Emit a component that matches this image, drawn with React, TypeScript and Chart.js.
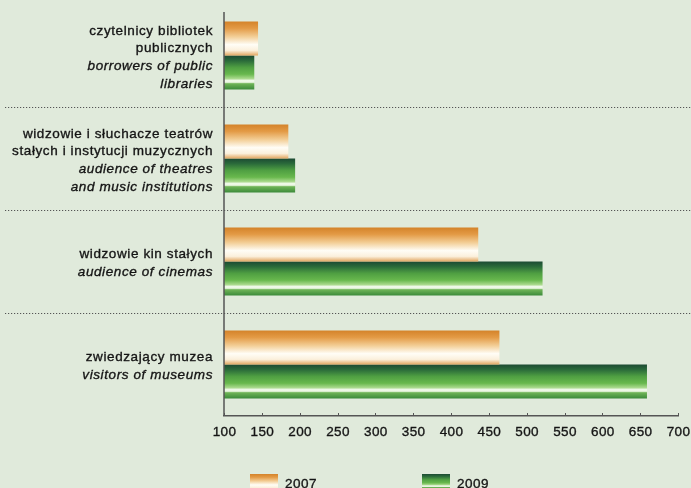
import React, { useEffect, useRef } from "react";
import { Chart, registerables } from "chart.js";

Chart.register(...registerables);

const labelsPl: string[][] = [
  ["czytelnicy bibliotek", "publicznych"],
  ["widzowie i słuchacze teatrów", "stałych i instytucji muzycznych"],
  ["widzowie kin stałych"],
  ["zwiedzający muzea"],
];
const labelsEn: string[][] = [
  ["borrowers of public", "libraries"],
  ["audience of theatres", "and music institutions"],
  ["audience of cinemas"],
  ["visitors of museums"],
];
const categories = ["libraries", "theatres", "cinemas", "museums"];
const values2007 = [145, 185, 436, 464];
const values2009 = [140, 194, 521, 659];
const seriesNames = ["2007", "2009"];
const xTicks = [100, 150, 200, 250, 300, 350, 400, 450, 500, 550, 600, 650, 700];

const CAT_PCT = 0.66;
const FONT = "'Liberation Sans', Arial, sans-serif";
const TEXT = "#151515";

function orangeGrad(ctx: CanvasRenderingContext2D, top: number, h: number) {
  const g = ctx.createLinearGradient(0, top, 0, top + h);
  g.addColorStop(0, "#d4832a");
  g.addColorStop(0.2, "#e39a45");
  g.addColorStop(0.45, "#f3cf98");
  g.addColorStop(0.68, "#fffdf6");
  g.addColorStop(0.85, "#fbf0dc");
  g.addColorStop(1, "#e2a660");
  return g;
}
function greenGrad(ctx: CanvasRenderingContext2D, top: number, h: number) {
  const g = ctx.createLinearGradient(0, top, 0, top + h);
  g.addColorStop(0, "#1c4a33");
  g.addColorStop(0.15, "#2a6a3a");
  g.addColorStop(0.35, "#4f9f42");
  g.addColorStop(0.55, "#68b84d");
  g.addColorStop(0.68, "#a9d98c");
  g.addColorStop(0.74, "#f4fbef");
  g.addColorStop(0.79, "#e6f4dc");
  g.addColorStop(0.83, "#6fb457");
  g.addColorStop(1, "#3b8a3a");
  return g;
}

function heavyText(ctx: CanvasRenderingContext2D, t: string, x: number, y: number) {
  ctx.fillText(t, x, y);
  ctx.strokeText(t, x, y);
}

const overlayPlugin = {
  id: "overlay",
  afterDraw(chart: any) {
    const ctx: any = chart.ctx;
    const y = chart.scales.y;
    const x = chart.scales.x;
    const area = chart.chartArea;
    ctx.save();
    // y axis line
    ctx.strokeStyle = "#555";
    ctx.lineWidth = 1.5;
    ctx.beginPath();
    ctx.moveTo(area.left, 12);
    ctx.lineTo(area.left, area.bottom);
    ctx.stroke();
    // inward tick marks on x axis
    ctx.lineWidth = 1;
    xTicks.forEach((v) => {
      const px = Math.round(x.getPixelForValue(v)) + 0.5;
      ctx.beginPath();
      ctx.moveTo(px, area.bottom - 3);
      ctx.lineTo(px, area.bottom);
      ctx.stroke();
    });
    // dotted separators
    ctx.strokeStyle = "#555";
    ctx.lineWidth = 1;
    ctx.setLineDash([1.2, 1.8]);
    for (let i = 0; i < categories.length - 1; i++) {
      const py = Math.round((y.getPixelForValue(i) + y.getPixelForValue(i + 1)) / 2) + 0.5;
      ctx.beginPath();
      ctx.moveTo(5, py);
      ctx.lineTo(chart.width, py);
      ctx.stroke();
    }
    ctx.setLineDash([]);
    // category labels
    ctx.fillStyle = TEXT;
    ctx.strokeStyle = TEXT;
    ctx.lineWidth = 0.35;
    ctx.textAlign = "right";
    ctx.textBaseline = "middle";
    ctx.letterSpacing = "0.6px";
    const lh = 17.5;
    for (let i = 0; i < categories.length; i++) {
      const lines = [
        ...labelsPl[i].map((t) => ({ t, it: false })),
        ...labelsEn[i].map((t) => ({ t, it: true })),
      ];
      const c = y.getPixelForValue(i) + 2;
      const start = c - ((lines.length - 1) * lh) / 2;
      lines.forEach((l, k) => {
        ctx.font = (l.it ? "italic " : "") + "13.5px " + FONT;
        heavyText(ctx, l.t, 213, start + k * lh);
      });
    }
    // x tick labels
    ctx.textAlign = "center";
    ctx.letterSpacing = "0.4px";
    ctx.font = "13.5px " + FONT;
    xTicks.forEach((v) => {
      heavyText(ctx, String(v), x.getPixelForValue(v) + 0.5, area.bottom + 16);
    });
    // legend
    const items = [
      { x: 250, grad: orangeGrad },
      { x: 422, grad: greenGrad },
    ];
    ctx.letterSpacing = "0.5px";
    items.forEach((it, k) => {
      ctx.fillStyle = it.grad(ctx, 474, 16);
      ctx.fillRect(it.x, 474, 28, 16);
      ctx.fillStyle = TEXT;
      ctx.textAlign = "left";
      ctx.textBaseline = "alphabetic";
      ctx.font = "13.5px " + FONT;
      heavyText(ctx, seriesNames[k], it.x + 35, 488);
    });
    ctx.restore();
  },
};

function barFill(which: number) {
  return (c: any) => {
    const chart = c.chart;
    const y = chart.scales?.y;
    if (!chart.chartArea || !y || c.dataIndex === undefined) return which === 0 ? "#e39a45" : "#4f9f42";
    const center = y.getPixelForValue(c.dataIndex);
    const band = y.height / categories.length;
    const h = (band * CAT_PCT) / 2;
    const top = which === 0 ? center - h : center;
    return which === 0 ? orangeGrad(chart.ctx, top, h) : greenGrad(chart.ctx, top, h);
  };
}

export default function App() {
  const ref = useRef<HTMLCanvasElement | null>(null);
  useEffect(() => {
    if (!ref.current) return;
    const chart = new Chart(ref.current, {
      type: "bar",
      data: {
        labels: categories,
        datasets: [
          { label: seriesNames[0], data: values2007, backgroundColor: barFill(0), borderWidth: 0 },
          { label: seriesNames[1], data: values2009, backgroundColor: barFill(1), borderWidth: 0 },
        ],
      },
      options: {
        indexAxis: "y",
        animation: false,
        responsive: true,
        maintainAspectRatio: false,
        datasets: { bar: { categoryPercentage: CAT_PCT, barPercentage: 1 } },
        layout: { padding: { left: 224, right: 13, top: 4, bottom: 72 } },
        plugins: { legend: { display: false }, tooltip: { enabled: false } },
        scales: {
          x: {
            min: 100,
            max: 700,
            afterBuildTicks: (s: any) => {
              s.ticks = xTicks.map((v) => ({ value: v }));
            },
            grid: { drawOnChartArea: false, drawTicks: false },
            border: { display: true, color: "#555", width: 1.5 },
            ticks: { display: false },
          },
          y: {
            grid: { display: false, drawTicks: false },
            border: { display: false },
            ticks: { display: false },
          },
        },
      },
      plugins: [overlayPlugin],
    });
    return () => chart.destroy();
  }, []);
  return (
    <div style={{ position: "fixed", left: 0, top: 0, width: 691, height: 488, background: "#e0eadb", overflow: "hidden" }}>
      <canvas ref={ref} />
    </div>
  );
}
